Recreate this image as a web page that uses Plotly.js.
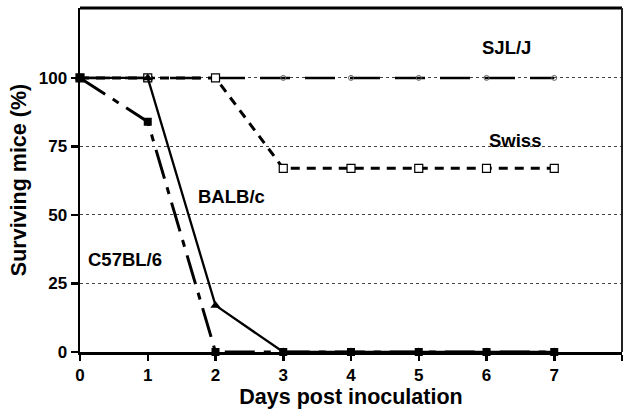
<!DOCTYPE html>
<html>
<head>
<meta charset="utf-8">
<script src="https://cdn.plot.ly/plotly-3.0.1.min.js"></script>
<style>html,body{margin:0;padding:0;background:#fff;}#chart{width:626px;height:409px;}</style>
</head>
<body>
<div id="chart"></div>
<script>
var sjlDays = [0, 1, 2, 3, 4, 5, 6, 7];
var sjlVals = [100, 100, 100, 100, 100, 100, 100, 100];
var swissDays = [0, 1, 2, 3, 4, 5, 6, 7];
var swissVals = [100, 100, 100, 67, 67, 67, 67, 67];
var balbDays = [0, 1, 2, 3, 4, 5, 6, 7];
var balbVals = [100, 100, 17, 0, 0, 0, 0, 0];
var c57Days = [0, 1, 2, 3, 4, 5, 6, 7];
var c57Vals = [100, 84, 0, 0, 0, 0, 0, 0];
var xTicks = [0, 1, 2, 3, 4, 5, 6, 7, 8];
var yTicks = [0, 25, 50, 75, 100];
var labels = [
  {text: 'SJL/J', x: 6.3, y: 111},
  {text: 'Swiss', x: 6.42, y: 77},
  {text: 'BALB/c', x: 2.24, y: 56.6},
  {text: 'C57BL/6', x: 0.66, y: 33.6}
];

var FONT = 'Liberation Sans, Arial, Helvetica, sans-serif';

var traces = [
  {x: sjlDays, y: sjlVals, mode: 'lines+markers', name: 'SJL/J', cliponaxis: false,
   line: {color: '#000', width: 2.5, dash: '30px,15px'},
   marker: {symbol: 'circle-open', size: 5, color: '#666', line: {width: 1, color: '#555'}}},
  {x: swissDays, y: swissVals, mode: 'lines+markers', name: 'Swiss', cliponaxis: false,
   line: {color: '#000', width: 3, dash: '9px,7px'},
   marker: {symbol: 'square', size: 8, color: '#fff', line: {width: 1.2, color: '#000'}}},
  {x: balbDays, y: balbVals, mode: 'lines+markers', name: 'BALB/c', cliponaxis: false,
   line: {color: '#000', width: 2.3},
   marker: {symbol: 'triangle-up', size: 9, color: '#000'}},
  {x: c57Days, y: c57Vals, mode: 'lines+markers', name: 'C57BL/6', cliponaxis: false,
   line: {color: '#000', width: 3, dash: '30px,9px,7px,9px'},
   marker: {symbol: 'square', size: 8, color: '#000'}}
];

var annotations = labels.map(function (l) {
  return {text: l.text, x: l.x, y: l.y, xref: 'x', yref: 'y', showarrow: false,
    font: {family: FONT, size: 18.5, color: '#000', weight: 700}};
});

var layout = {
  width: 626, height: 409,
  margin: {l: 80, r: 4, t: 8, b: 57},
  paper_bgcolor: '#fff', plot_bgcolor: '#fff',
  showlegend: false,
  font: {family: FONT, color: '#000'},
  xaxis: {
    range: [0, 8], tickvals: xTicks, ticks: 'outside', ticklen: 6, tickwidth: 2.5, tickcolor: '#000',
    showline: true, linewidth: 2.5, linecolor: '#000', showgrid: false, zeroline: false,
    tickfont: {family: FONT, size: 17, weight: 700, color: '#000'},
    title: {text: 'Days post inoculation', font: {family: FONT, size: 21.5, weight: 700, color: '#000'}, standoff: 2}
  },
  yaxis: {
    range: [0, 125.5], tickvals: yTicks, ticks: 'outside', ticklen: 7, tickwidth: 2.5, tickcolor: '#000',
    showline: true, linewidth: 2.5, linecolor: '#000', zeroline: false,
    showgrid: true, gridcolor: '#444', gridwidth: 1, griddash: 'dot',
    tickfont: {family: FONT, size: 17, weight: 700, color: '#000'},
    title: {text: 'Surviving mice (%)', font: {family: FONT, size: 21.5, weight: 700, color: '#000'}, standoff: 6}
  },
  shapes: [
    {type: 'line', xref: 'paper', yref: 'paper', x0: 0, x1: 1, y0: 1, y1: 1, line: {color: '#000', width: 3}},
    {type: 'line', xref: 'paper', yref: 'paper', x0: 1, x1: 1, y0: 0, y1: 1, line: {color: '#222', width: 2}}
  ],
  annotations: annotations
};

Plotly.newPlot('chart', traces, layout, {displayModeBar: false, staticPlot: true});
</script>
</body>
</html>
